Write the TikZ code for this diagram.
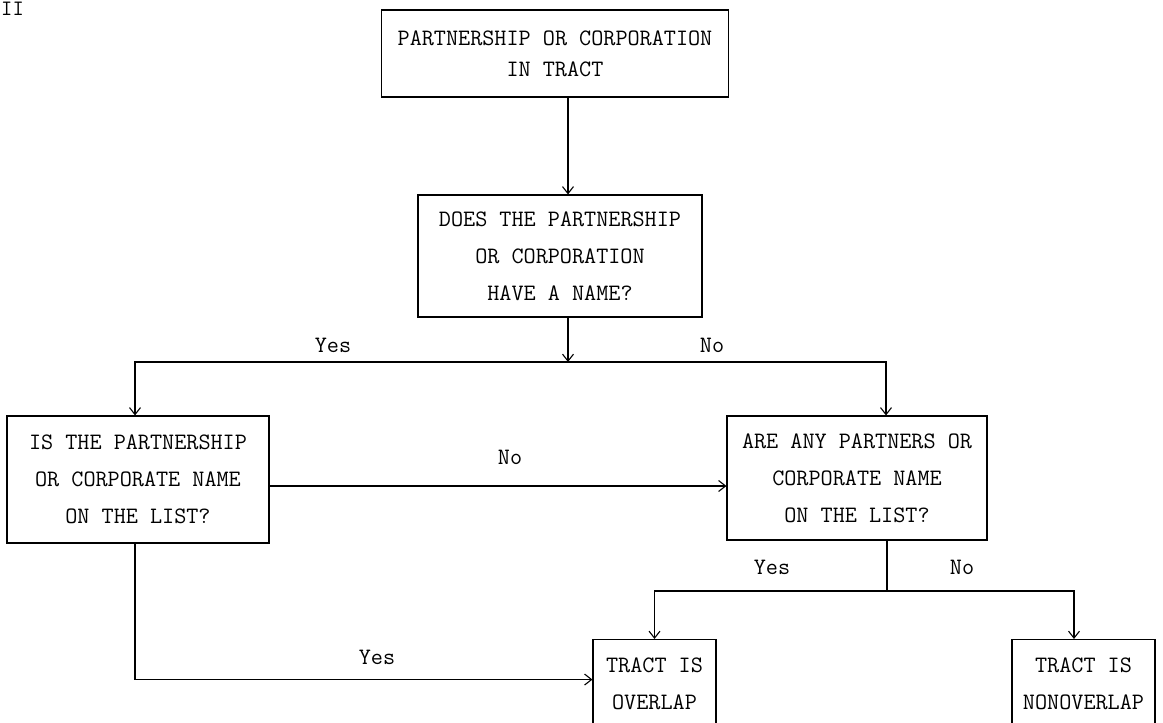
\documentclass[tikz,border=0pt]{standalone}
\usepackage{fontspec}
\usepackage{tikz}
\usetikzlibrary{arrows.meta}

\begin{document}
\begin{tikzpicture}[x=1pt, y=-1pt,
    box/.style={draw, line width=1.1pt, align=center, inner sep=0pt,
        font=\ttfamily\fontsize{23.5}{37}\selectfont},
    lbl/.style={font=\ttfamily\fontsize{23.5}{28}\selectfont, inner sep=0pt},
    arr/.style={line width=1.1pt, -{Straight Barb[length=7pt, width=11pt]}},
    ln/.style={line width=1.1pt}]
    \clip (0,0) rectangle (1163,723);

    % Cases
    \node[lbl, anchor=north west, font=\ttfamily\fontsize{22}{24}\selectfont] (page) at (1,2) {II};
    \node[box, minimum width=347pt, minimum height=87pt,
        font=\ttfamily\fontsize{23.5}{31}\selectfont] (tract) at (555,53.5)
        {PARTNERSHIP OR CORPORATION\\IN TRACT};
    \node[box, minimum width=284pt, minimum height=122pt] (hasname) at (560,256)
        {DOES THE PARTNERSHIP\\OR CORPORATION\\HAVE A NAME?};
    \node[box, minimum width=262pt, minimum height=127pt] (onlist) at (138,479.5)
        {IS THE PARTNERSHIP\\OR CORPORATE NAME\\ON THE LIST?};
    \node[box, minimum width=260pt, minimum height=124pt] (partners) at (857,478)
        {ARE ANY PARTNERS OR\\CORPORATE NAME\\ON THE LIST?};
    \node[box, anchor=north, minimum width=123pt, minimum height=88pt] (overlap) at (654.5,639)
        {TRACT IS\\OVERLAP};
    \node[box, anchor=north, minimum width=143pt, minimum height=88pt] (nonoverlap) at (1083.5,639)
        {TRACT IS\\NONOVERLAP};

    % Embranchements
    \coordinate (split) at (568,362);
    \coordinate (split2) at (887,591);

    % Fleches
    \draw[arr] (tract.south -| split) -- (hasname.north -| split);
    \draw[arr] (hasname.south -| split) -- (split);
    \draw[arr] (split) -| ([xshift=-3pt]onlist.north);
    \draw[arr] (split) -| ([xshift=29pt]partners.north);
    \draw[arr] ([yshift=-6.5pt]onlist.east) -- ([yshift=-6.5pt]onlist.east -| partners.west);
    \draw[ln] (partners.south -| split2) -- (split2);
    \draw[arr] (split2) -| (overlap.north);
    \draw[arr] (split2) -| ([xshift=-9.5pt]nonoverlap.north);
    \draw[arr] ([xshift=-3pt]onlist.south) |- ([yshift=4pt]overlap.west);

    % Reponses
    \node[lbl] (yes1) at (333,345) {Yes};
    \node[lbl] (no1) at (712,345) {No};
    \node[lbl] (no2) at (510,457) {No};
    \node[lbl] (yes2) at (772,567) {Yes};
    \node[lbl] (no3) at (962,567) {No};
    \node[lbl] (yes3) at (377,657) {Yes};
\end{tikzpicture}
\end{document}
